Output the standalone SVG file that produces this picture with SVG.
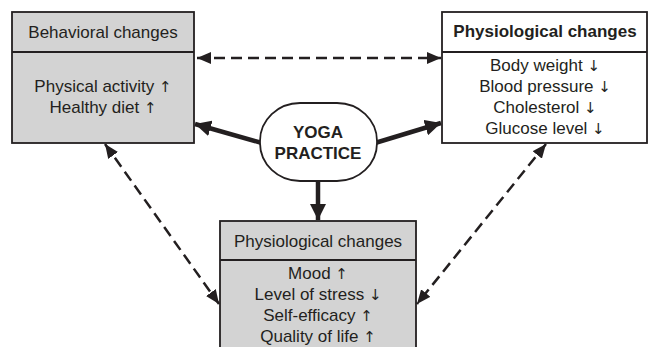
<svg xmlns="http://www.w3.org/2000/svg" width="649" height="347" viewBox="0 0 649 347">
<defs>
<style>
text{font-family:"Liberation Sans",Arial,sans-serif;font-size:17px;fill:#231f20;text-anchor:middle}
.b{font-weight:bold}
.ar{font-family:"DejaVu Sans",sans-serif;font-size:15px;font-weight:normal}
.box{stroke:#231f20;stroke-width:1.8}
.gray{fill:#d3d3d3}
.white{fill:#fff}
.thick{stroke:#231f20;stroke-width:4.5;fill:none}
.dash{stroke:#231f20;stroke-width:2.5;fill:none;stroke-dasharray:11 6}
</style>
<marker id="ahT" markerUnits="userSpaceOnUse" markerWidth="18" markerHeight="16" refX="16" refY="8" orient="auto"><path d="M0,0 L16,8 L0,16 z" fill="#231f20"/></marker>
<marker id="ahD" markerUnits="userSpaceOnUse" markerWidth="16" markerHeight="12" refX="14" refY="6" orient="auto-start-reverse"><path d="M0,0 L14,6 L0,12 z" fill="#231f20"/></marker>
</defs>
<rect width="649" height="347" fill="#fff"/>
<g id="connectors">
<line class="thick" x1="262" y1="143" x2="195" y2="124" marker-end="url(#ahT)"/>
<line class="thick" x1="375" y1="143" x2="441" y2="123" marker-end="url(#ahT)"/>
<line class="thick" x1="318" y1="181" x2="318" y2="220" marker-end="url(#ahT)"/>
<line class="dash" x1="197" y1="58" x2="441" y2="58" marker-start="url(#ahD)" marker-end="url(#ahD)"/>
<line class="dash" x1="105" y1="144" x2="219" y2="304" marker-start="url(#ahD)" marker-end="url(#ahD)"/>
<line class="dash" x1="546" y1="144" x2="417" y2="304" marker-start="url(#ahD)" marker-end="url(#ahD)"/>
</g>
<g id="behavioral">
<rect class="box gray" x="12" y="12" width="182" height="131"/>
<line class="box" x1="12" y1="52" x2="194" y2="52"/>
<text x="103" y="38">Behavioral changes</text>
<text x="103" y="92">Physical activity <tspan class="ar">↑</tspan></text>
<text x="103" y="113">Healthy diet <tspan class="ar">↑</tspan></text>
</g>
<g id="physiological-top">
<rect class="box white" x="442" y="12" width="205" height="131"/>
<line class="box" x1="442" y1="52" x2="647" y2="52"/>
<text class="b" x="545" y="37">Physiological changes</text>
<text x="545" y="71">Body weight <tspan class="ar">↓</tspan></text>
<text x="545" y="92">Blood pressure <tspan class="ar">↓</tspan></text>
<text x="545" y="113">Cholesterol <tspan class="ar">↓</tspan></text>
<text x="545" y="134">Glucose level <tspan class="ar">↓</tspan></text>
</g>
<g id="yoga">
<rect class="box white" x="260" y="103" width="117" height="78" rx="40" ry="38"/>
<text class="b" x="318" y="138">YOGA</text>
<text class="b" x="318" y="159">PRACTICE</text>
</g>
<g id="physiological-bottom">
<rect class="box gray" x="220" y="221" width="196" height="140"/>
<line class="box" x1="220" y1="260" x2="416" y2="260"/>
<text x="318" y="247">Physiological changes</text>
<text x="318" y="279">Mood <tspan class="ar">↑</tspan></text>
<text x="318" y="300">Level of stress <tspan class="ar">↓</tspan></text>
<text x="318" y="321">Self-efficacy <tspan class="ar">↑</tspan></text>
<text x="318" y="342">Quality of life <tspan class="ar">↑</tspan></text>
</g>
</svg>
